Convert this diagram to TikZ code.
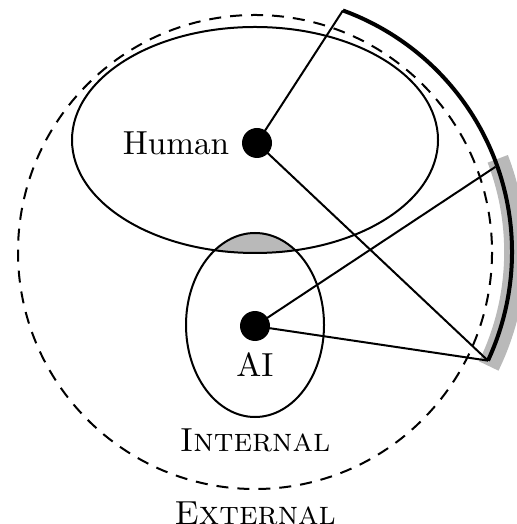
\documentclass[tikz,border=0pt]{standalone}
\begin{document}
\begin{tikzpicture}[x=0.3pt,y=-0.3pt,line width=0.6pt,
  dot/.style={circle,fill=black,inner sep=0pt,minimum size=9pt},
  lbl/.style={inner sep=0pt,font=\normalsize},
  shade/.style={gray!55},
  boundary/.style={dash pattern=on 3.6pt off 2.7pt}]
\useasboundingbox (0,0) rectangle (516,524);
\coordinate (C) at (255,252);
\coordinate (HC) at (255,140);
\coordinate (AC) at (255,325);
% overlap of the two ellipses
\begin{scope}
  \clip (HC) ellipse [x radius=183, y radius=113];
  \fill[shade] (AC) ellipse [x radius=69, y radius=92];
\end{scope}
% gray arc
\draw[shade,line width=6.5pt] ([shift={(-21:260)}]C) arc[start angle=-21, end angle=26, radius=260];
% ellipses and dashed circle
\draw (HC) ellipse [x radius=183, y radius=113];
\draw (AC) ellipse [x radius=69, y radius=92];
\draw[boundary] (C) circle [radius=237];
% arc end points
\coordinate (P1) at ([shift={(-70:257)}]C);
\coordinate (P2) at ([shift={(25:257)}]C);
\coordinate (G1) at ([shift={(-19.5:255)}]C);
% black arc
\draw[line width=1.2pt] (P1) arc[start angle=-70, end angle=25, radius=257];
% dots
\node[dot] (H) at (257,143) {};
\node[dot] (A) at (255,326) {};
% connectors
\draw (H.center) -- (P1);
\draw (H.center) -- (P2);
\draw (A.center) -- (G1);
\draw (A.center) -- (P2);
% labels
\node[lbl] (hl) at (176,143) {Human};
\node[lbl] (al) at (255,365) {AI};
\node[lbl] (il) at (255,440) {\textsc{Internal}};
\node[lbl] (el) at (255,513) {\textsc{External}};
\end{tikzpicture}
\end{document}
